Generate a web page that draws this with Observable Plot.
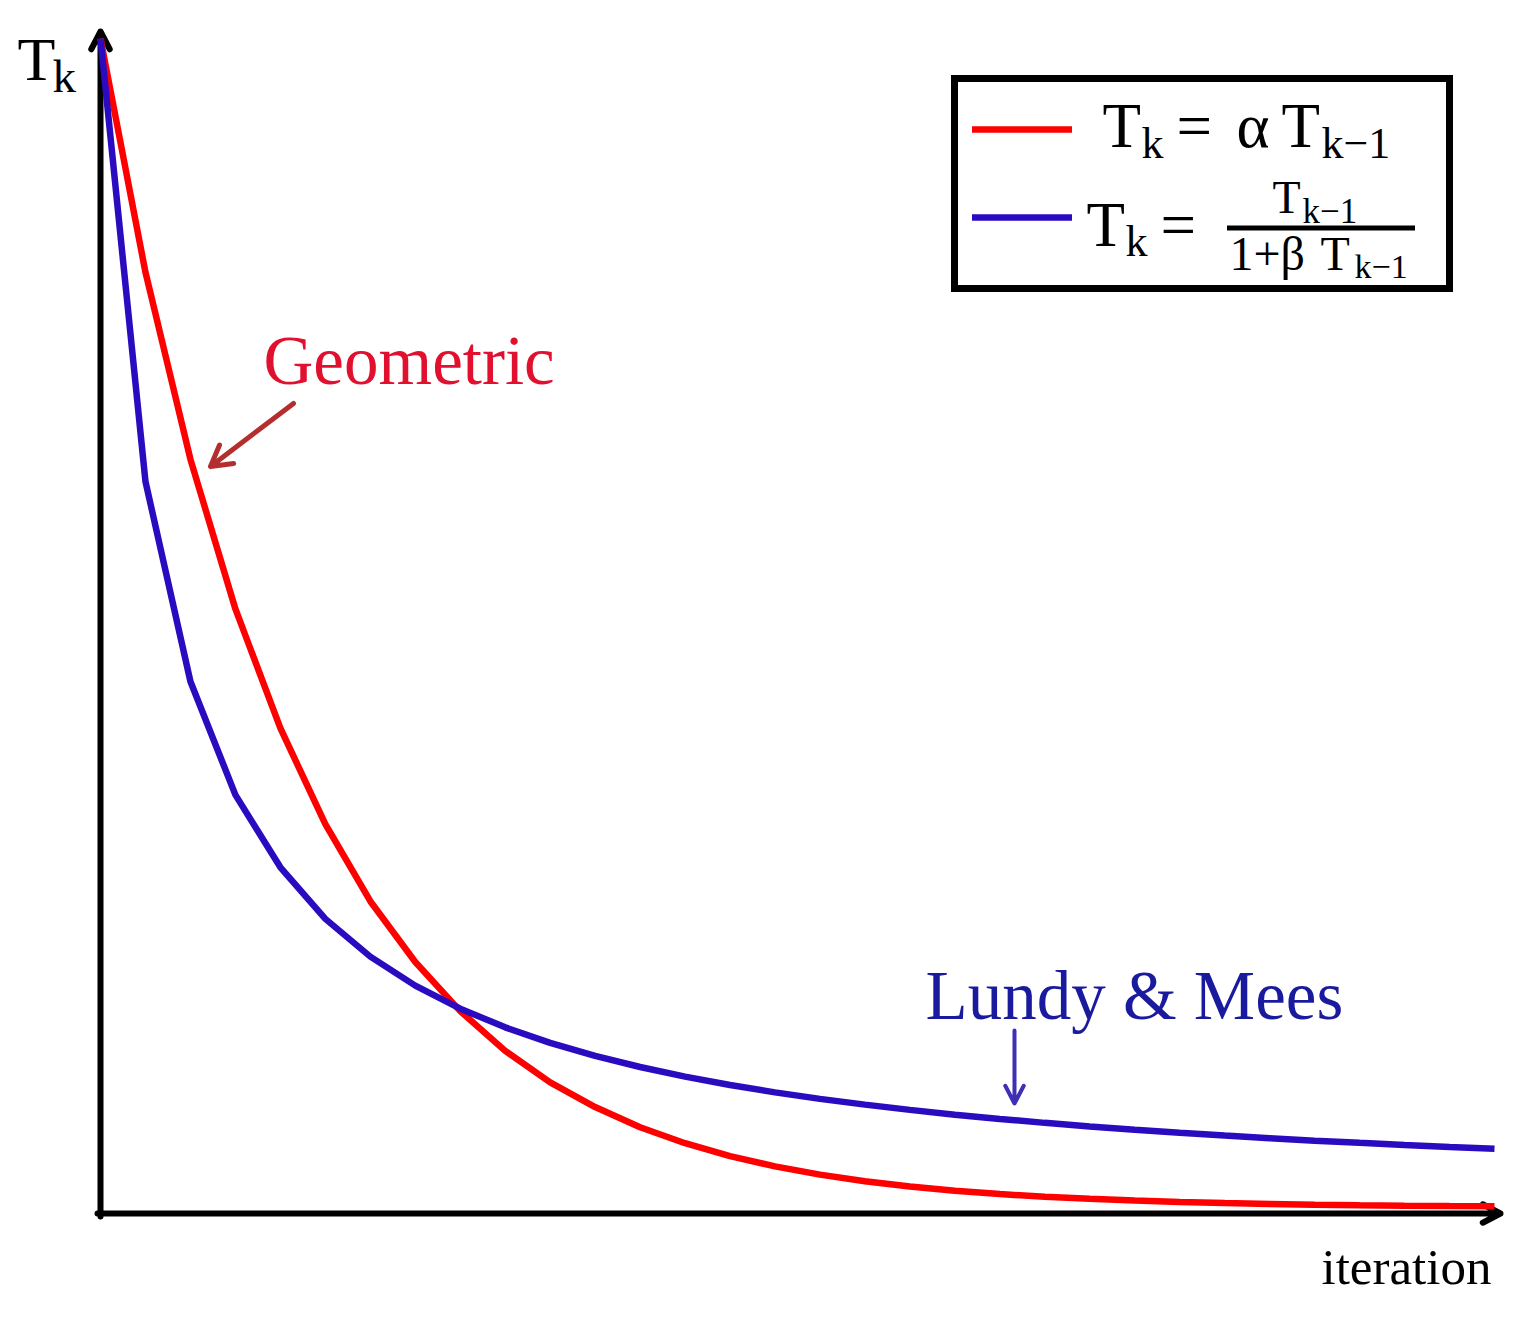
<!DOCTYPE html>
<html>
<head>
<meta charset="utf-8">
<script src="https://cdn.jsdelivr.net/npm/d3@7"></script>
<script src="https://cdn.jsdelivr.net/npm/@observablehq/plot@0.6"></script>
<style>
  body { margin: 0; background: #fff; }
  #chart svg { display: block; }
</style>
</head>
<body>
<div id="chart"></div>
<script>
// ---- Data ----
const iteration = [0,1,2,3,4,5,6,7,8,9,10,11,12,13,14,15,16,17,18,19,20,21,22,23,24,25,26,27,28,29,30,31];
// Geometric cooling T_k = α T_{k-1} (relative temperature)
const geometric = [1.000,0.800,0.640,0.512,0.410,0.328,0.262,0.210,0.168,0.134,0.107,0.0859,0.0687,0.0550,0.0440,0.0352,
                   0.0281,0.0225,0.0180,0.0144,0.0115,0.0092,0.0074,0.0059,0.0047,0.0038,0.0030,0.0024,0.0019,0.0015,0.0012,0.0010];
// Lundy & Mees cooling T_k = T_{k-1} / (1 + β T_{k-1})
const lundyMees = [1.000,0.621,0.450,0.353,0.291,0.2469,0.2146,0.1898,0.1701,0.1541,0.1408,0.1297,0.1202,0.1120,0.1048,0.0985,
                   0.0929,0.0880,0.0835,0.0794,0.0758,0.0724,0.0693,0.0665,0.0639,0.0615,0.0593,0.0572,0.0553,0.0535,0.0518,0.0502];

const seriesNames = ["Geometric", "Lundy & Mees"];
const seriesColors = ["#ff0000", "#2b0bc0"];

// ---- Layout ----
const W = 1517, H = 1320;
const xDomain = [0, 31], yDomain = [0, 1];
const xRange = [100, 1494], yRange = [1207, 38];
// pixel -> data helpers, used only to place annotations
const px = d3.scaleLinear(xRange, xDomain);
const py = d3.scaleLinear(yRange, yDomain);

const geoData = iteration.map((k, i) => ({k, T: geometric[i]}));
const lmData = iteration.map((k, i) => ({k, T: lundyMees[i]}));

const font = "'Liberation Serif', 'Times New Roman', serif";
const blackLabels = [
  {t: "T", x: 17, y: 79, s: 62},
  {t: "k", x: 52, y: 91, s: 47},
  {t: "iteration", x: 1321, y: 1283, s: 51},
  // legend row 1
  {t: "T", x: 1102, y: 146, s: 63},
  {t: "k", x: 1141, y: 157, s: 44},
  {t: "=", x: 1176, y: 146, s: 63},
  {t: "α", x: 1236, y: 146, s: 63},
  {t: "T", x: 1281, y: 146, s: 63},
  {t: "k−1", x: 1321, y: 157, s: 44},
  // legend row 2
  {t: "T", x: 1086, y: 245, s: 63},
  {t: "k", x: 1125, y: 255, s: 44},
  {t: "=", x: 1160, y: 245, s: 63},
  {t: "T", x: 1272, y: 212, s: 46},
  {t: "k−1", x: 1302, y: 222, s: 35},
  {t: "1+β", x: 1229, y: 269, s: 48},
  {t: "T", x: 1320, y: 269, s: 48},
  {t: "k−1", x: 1354, y: 277, s: 34}
];

const textOpts = (fill) => ({
  x: d => px(d.x), y: d => py(d.y), text: d => d.t,
  fontSize: d => d.s, fill, textAnchor: "start", lineAnchor: "bottom", fontFamily: font
});

const chart = Plot.plot({
  width: W, height: H,
  marginTop: 0, marginRight: 0, marginBottom: 0, marginLeft: 0,
  style: {background: "white"},
  x: {domain: xDomain, range: xRange, axis: null},
  y: {domain: yDomain, range: yRange, axis: null},
  marks: [
    // axes with arrowheads
    Plot.arrow([0], {x1: 0, y1: py(1216), x2: 0, y2: py(31), stroke: "black", strokeWidth: 6, headLength: 5, headAngle: 55}),
    Plot.arrow([0], {x1: px(97), y1: py(1213), x2: px(1500), y2: py(1213), stroke: "black", strokeWidth: 6, headLength: 5, headAngle: 55}),
    // curves
    Plot.line(geoData, {x: "k", y: "T", stroke: seriesColors[0], strokeWidth: 6.5, strokeLinecap: "butt", strokeLinejoin: "miter"}),
    Plot.line(lmData, {x: "k", y: "T", stroke: seriesColors[1], strokeWidth: 6.5, strokeLinecap: "butt", strokeLinejoin: "miter"}),
    // annotation arrows
    Plot.arrow([0], {x1: px(293), y1: py(403), x2: px(210), y2: py(466), stroke: "#b52e2e", strokeWidth: 5, headLength: 7, headAngle: 60}),
    Plot.arrow([0], {x1: px(1014), y1: py(1030), x2: px(1014), y2: py(1103), stroke: "#3f2fb5", strokeWidth: 4, headLength: 7.5, headAngle: 55}),
    // series labels
    Plot.text([{t: seriesNames[0], x: 263, y: 383, s: 69}], textOpts("#e0102e")),
    Plot.text([{t: seriesNames[1], x: 925, y: 1018, s: 69}], textOpts("#1a1a9e")),
    // legend box
    Plot.rect([0], {x1: px(954.5), x2: px(1449.5), y1: py(78.5), y2: py(288.5), fill: "white", stroke: "black", strokeWidth: 7}),
    Plot.ruleY([py(129)], {x1: px(972), x2: px(1072), stroke: seriesColors[0], strokeWidth: 6.5}),
    Plot.ruleY([py(217)], {x1: px(972), x2: px(1072), stroke: seriesColors[1], strokeWidth: 6.5}),
    Plot.ruleY([py(227.5)], {x1: px(1227), x2: px(1415), stroke: "black", strokeWidth: 5}),
    // black labels (axis names, legend formulas)
    Plot.text(blackLabels, textOpts("black"))
  ]
});
document.getElementById("chart").appendChild(chart);
</script>
</body>
</html>
